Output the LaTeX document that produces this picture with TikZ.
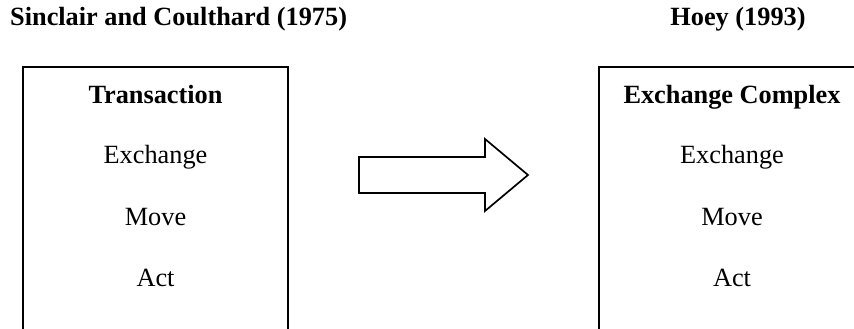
\documentclass[tikz,border=0pt]{standalone}
\usepackage{fontspec}
\setmainfont{Liberation Serif}
\begin{document}
\begin{tikzpicture}[x=1pt,y=-1pt,
  txt/.style={inner sep=0pt,anchor=base,font=\fontsize{26.3}{30}\selectfont},
  hd/.style={txt,font=\fontsize{26.3}{30}\selectfont\bfseries},
  boxline/.style={draw=black,line width=1.5pt},
  bigarrow/.style={draw=black,line width=1.7pt,line join=miter,fill=white}]
\useasboundingbox (0,0) rectangle (854,329);
\fill[white] (0,0) rectangle (854,329);
\clip (0,0) rectangle (854,329);
% titles
\node[hd,anchor=base west] (t1) at (10,26) {Sinclair and Coulthard (1975)};
\node[hd] (t2) at (738,26) {Hoey (1993)};
% boxes
\draw[boxline] (23,340) -- (23,67) -- (288,67) -- (288,340);
\draw[boxline] (599,340) -- (599,67) -- (865,67) -- (865,340);
% left column
\node[hd] (l1) at (155.5,103) {Transaction};
\node[txt] (l2) at (155.5,163) {Exchange};
\node[txt] (l3) at (155.5,225) {Move};
\node[txt] (l4) at (155.5,286) {Act};
% right column
\node[hd] (r1) at (732,103) {Exchange Complex};
\node[txt] (r2) at (732,163) {Exchange};
\node[txt] (r3) at (732,225) {Move};
\node[txt] (r4) at (732,286) {Act};
% arrow
\draw[bigarrow] (359,157) -- (485,157) -- (485,139) -- (528,175) -- (485,211) -- (485,193) -- (359,193) -- cycle;
\end{tikzpicture}
\end{document}
